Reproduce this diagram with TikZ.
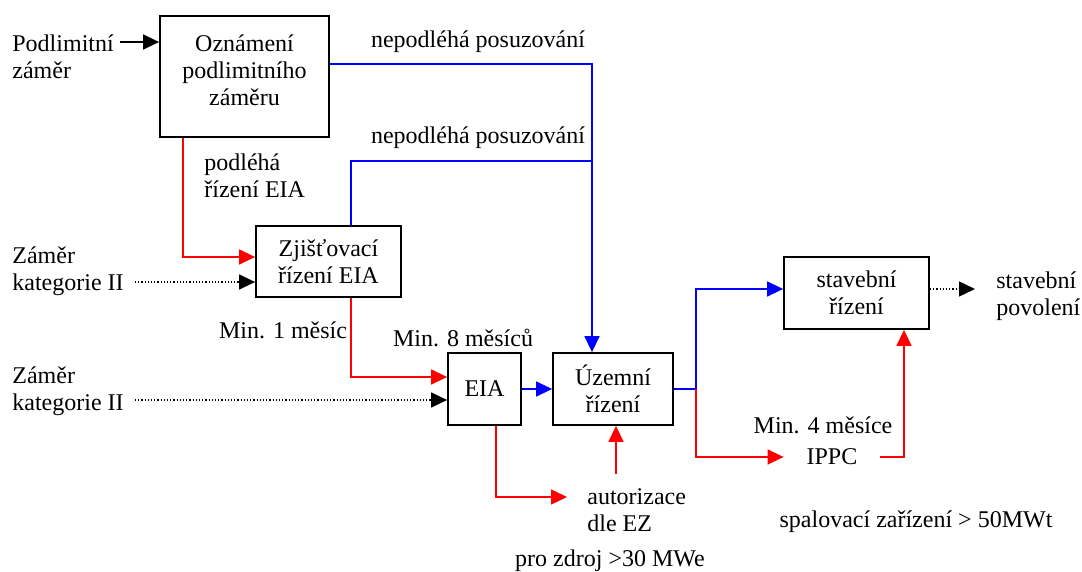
\documentclass[tikz,border=0pt]{standalone}
\usepackage{fontspec}
\setmainfont{Liberation Serif}
\usetikzlibrary{arrows.meta}

\begin{document}
\begin{tikzpicture}[x=0.5pt,y=-0.5pt,>={Triangle[length=8pt,width=7.5pt]},
  font=\fontsize{12}{13.5}\selectfont,
  box/.style={draw,line width=0.9pt,inner sep=0pt,align=center},
  txt/.style={inner sep=0pt,align=center},
  flow/.style={line width=0.75pt,->},
  dots/.style={line width=0.7pt,dash pattern=on 0.6pt off 1pt,->}]
  \useasboundingbox (0,0) rectangle (1082,572);
  \node (podlim) [txt,align=left,anchor=west] at (12,57) {Podlimitní\\záměr};
  \node (zamer) [box,minimum width=84.5pt,minimum height=60.5pt] at (244.5,76.5) {};
  \node (zamertxt) [txt] at (244.5,70) {Oznámení\\podlimitního\\záměru};
  \node (podleha) [txt,align=left,anchor=west] at (204,176) {podléhá\\řízení EIA};
  \node (kat1) [txt,align=left,anchor=west] at (12,271) {Záměr\\kategorie II};
  \node (zjist) [box,minimum width=72.5pt,minimum height=35.5pt] at (328.5,261.5) {Zjišťovací\\řízení EIA};
  \node (nep1) [txt] at (478,42) {nepodléhá posuzování};
  \node (nep2) [txt] at (478,138) {nepodléhá posuzování};
  \node (min1) [txt] at (283,330) {Min. 1 měsíc};
  \node (min8) [txt] at (463,338) {Min. 8 měsíců};
  \node (kat2) [txt,align=left,anchor=west] at (12,391) {Záměr\\kategorie II};
  \node (eia) [box,minimum width=36.5pt,minimum height=36pt] at (484.5,389) {EIA};
  \node (uzemni) [box,minimum width=60pt,minimum height=36pt] at (613,389) {Územní\\řízení};
  \node (autor) [txt,align=left,anchor=west,inner xsep=10pt] at (567,510) {autorizace\\dle EZ};
  \node (zdroj) [txt] at (610,561) {pro zdroj >30 MWe};
  \node (stav) [box,minimum width=72.5pt,minimum height=36pt] at (856.5,293) {stavební\\řízení};
  \node (povol) [txt,align=left,anchor=west,inner xsep=10.5pt] at (975,296) {stavební\\povolení};
  \node (min4) [txt] at (823,425) {Min. 4 měsíce};
  \node (ippc) [txt,minimum width=48pt] at (832,457) {IPPC};
  \node (spal) [txt] at (916,522) {spalovací zařízení > 50MWt};
  \coordinate (podlimout) at (120,42);
  \coordinate (kat1out) at (135,282);
  \coordinate (kat2out) at (135,400);
  \coordinate (join) at (592,161);
  \coordinate (split) at (696,389);
  \coordinate (autorup) at (616,474);
  \draw[flow] (podlimout) -- (podlimout -| zamer.west);
  \draw[flow,red] ([xshift=12pt]zamer.south west) |- ([yshift=2.25pt]zjist.west);
  \draw[dots] (kat1out) -- (kat1out -| zjist.west);
  \draw[flow,blue] ([yshift=6.25pt]zamer.east) -| ([xshift=-10.5pt]uzemni.north);
  \draw[line width=0.75pt,blue] ([xshift=48pt]zjist.north west) |- (join);
  \draw[flow,red] ([xshift=48pt]zjist.south west) |- ([yshift=6pt]eia.west);
  \draw[dots] (kat2out) -- (kat2out -| eia.west);
  \draw[flow,blue] (eia) -- (uzemni);
  \draw[flow,red] ([xshift=5.75pt]eia.south) |- ([yshift=6.5pt]autor.west);
  \draw[flow,red] (autorup) -- (autorup |- uzemni.south);
  \draw[flow,blue] (uzemni.east) -- (split) |- ([yshift=2pt]stav.west);
  \draw[flow,red] (split) |- (ippc.west);
  \draw[flow,red] (ippc.east) -| ([xshift=23.75pt]stav.south);
  \draw[dots] ([yshift=2pt]stav.east) -- ([yshift=2pt]stav.east -| povol.west);
\end{tikzpicture}
\end{document}
